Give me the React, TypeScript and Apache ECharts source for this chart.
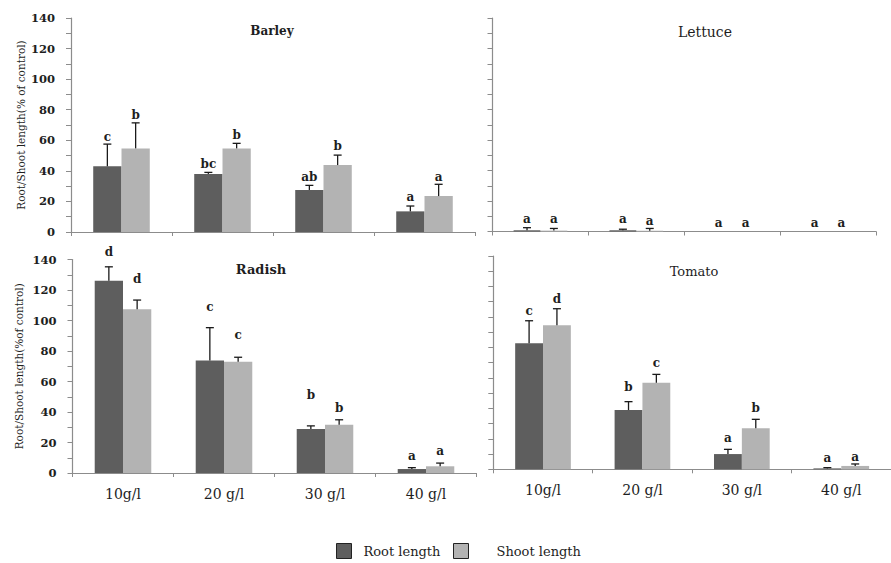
import React, { useEffect, useRef } from "react";
import * as echarts from "echarts";

const categories = ["10g/l", "20 g/l", "30 g/l", "40 g/l"];
const yTicks = { min: 0, max: 140, step: 20 };

const barleyRoot = [43, 38, 27.5, 13.5];
const barleyRootErr = [14.5, 1, 3, 3.5];
const barleyShoot = [54.7, 54.7, 43.8, 23.5];
const barleyShootErr = [16.7, 3.3, 6.5, 7.7];
const barleyRootLetters = ["c", "bc", "ab", "a"];
const barleyShootLetters = ["b", "b", "b", "a"];
const barleyRootLetterAt = [61.9, 44.2, 36.1, 23.1];
const barleyShootLetterAt = [76.5, 63.4, 56.2, 36.1];

const lettuceRoot = [0.8, 0.8, 0, 0];
const lettuceRootErr = [1.7, 0.7, 0, 0];
const lettuceShoot = [0.6, 0.5, 0, 0];
const lettuceShootErr = [1.4, 1.5, 0, 0];
const lettuceRootLetters = ["a", "a", "a", "a"];
const lettuceShootLetters = ["a", "a", "a", "a"];
const lettuceRootLetterAt = [7.9, 8.3, 5.4, 5.4];
const lettuceShootLetterAt = [7.9, 7.2, 5.4, 5.4];

const radishRoot = [126, 73.7, 28.8, 2.6];
const radishRootErr = [9.2, 21.6, 2.1, 0.9];
const radishShoot = [107.3, 73, 31.6, 4.4];
const radishShootErr = [6.1, 2.9, 3.3, 2.1];
const radishRootLetters = ["d", "c", "b", "a"];
const radishShootLetters = ["d", "c", "b", "a"];
const radishRootLetterAt = [145, 109, 51.2, 11.3];
const radishShootLetterAt = [126.9, 90.5, 42.7, 14.6];

const tomatoRoot = [82.7, 38.9, 10, 0.6];
const tomatoRootErr = [14.8, 5.5, 3.1, 0.5];
const tomatoShoot = [94.5, 56.8, 27, 2.2];
const tomatoShootErr = [10.9, 5.5, 5.8, 1.3];
const tomatoRootLetters = ["c", "b", "a", "a"];
const tomatoShootLetters = ["d", "c", "b", "a"];
const tomatoRootLetterAt = [104.1, 54.2, 20.3, 7.4];
const tomatoShootLetterAt = [111.5, 70, 40.4, 8.3];

const panelTitles = ["Barley", "Lettuce", "Radish", "Tomato"];
const yNames = ["Root/Shoot length(% of control)", "", "Root/Shoot length(%of control)", ""];
const legendNames = ["Root length", "Shoot length"];

const FONT = '"DejaVu Serif", "Liberation Serif", serif';
const ROOT_COLOR = "#5e5e5e";
const SHOOT_COLOR = "#b3b3b3";
const AXIS_COLOR = "#8c8c8c";
const TEXT_COLOR = "#1e1e1e";

const panels = [
  { root: barleyRoot, rootErr: barleyRootErr, shoot: barleyShoot, shootErr: barleyShootErr, rl: barleyRootLetters, sl: barleyShootLetters, ra: barleyRootLetterAt, sa: barleyShootLetterAt },
  { root: lettuceRoot, rootErr: lettuceRootErr, shoot: lettuceShoot, shootErr: lettuceShootErr, rl: lettuceRootLetters, sl: lettuceShootLetters, ra: lettuceRootLetterAt, sa: lettuceShootLetterAt },
  { root: radishRoot, rootErr: radishRootErr, shoot: radishShoot, shootErr: radishShootErr, rl: radishRootLetters, sl: radishShootLetters, ra: radishRootLetterAt, sa: radishShootLetterAt },
  { root: tomatoRoot, rootErr: tomatoRootErr, shoot: tomatoShoot, shootErr: tomatoShootErr, rl: tomatoRootLetters, sl: tomatoShootLetters, ra: tomatoRootLetterAt, sa: tomatoShootLetterAt },
];

const gridBoxes = [
  { left: 71, top: 18, width: 404, height: 214 },
  { left: 492.5, top: 18, width: 383.5, height: 213.5 },
  { left: 72.5, top: 259.5, width: 404, height: 213.5 },
  { left: 493.3, top: 256, width: 407, height: 213.3 },
];
const nameGaps = [45, 45, 48, 48];
const titleSpecs = [
  { x: 272, y: 31, font: `bold 12px ${FONT}` },
  { x: 705, y: 32, font: `14px ${FONT}` },
  { x: 261, y: 269.5, font: `bold 13px ${FONT}` },
  { x: 694, y: 271, font: `13px ${FONT}` },
];

function errorSeries(
  gi: number,
  vals: number[],
  errs: number[],
  letters: string[],
  letterAt: number[],
  sign: number
) {
  return {
    type: "custom",
    xAxisIndex: gi,
    yAxisIndex: gi,
    silent: true,
    z: 5,
    data: vals.map((v, i) => [i, v]),
    encode: { x: 0, y: 1 },
    renderItem: (params: any, api: any) => {
      const idx = params.dataIndex;
      const cw = api.size([1, 0])[0];
      const base = api.coord([idx, vals[idx]]);
      const x = base[0] + sign * cw * 0.14;
      const children: any[] = [];
      if (errs[idx] > 0) {
        const t = api.coord([idx, vals[idx] + errs[idx]]);
        children.push({
          type: "line",
          shape: { x1: x, y1: base[1], x2: x, y2: t[1] },
          style: { stroke: "#1a1a1a", lineWidth: 1.3 },
        });
        children.push({
          type: "line",
          shape: { x1: x - 4, y1: t[1], x2: x + 4, y2: t[1] },
          style: { stroke: "#1a1a1a", lineWidth: 1.3 },
        });
      }
      const ly = api.coord([idx, letterAt[idx]]);
      children.push({
        type: "text",
        x: x,
        y: ly[1],
        style: {
          text: letters[idx],
          fill: TEXT_COLOR,
          font: `bold 12px ${FONT}`,
          align: "center",
          verticalAlign: "middle",
        },
      });
      return { type: "group", children };
    },
  };
}

export default function App() {
  const ref = useRef<HTMLDivElement>(null);
  useEffect(() => {
    if (!ref.current) return;
    const chart = echarts.init(ref.current, null, { renderer: "svg" });

    const grid = gridBoxes.map((g) => ({ ...g, containLabel: false }));
    const xAxis = gridBoxes.map((_, i) => ({
      gridIndex: i,
      type: "category",
      data: categories,
      axisLine: { show: true, lineStyle: { color: AXIS_COLOR, width: 1.2 } },
      axisTick: { show: true, length: 4, lineStyle: { color: AXIS_COLOR } },
      axisLabel: {
        show: i >= 2,
        fontFamily: FONT,
        fontSize: 14,
        color: TEXT_COLOR,
        margin: 14,
      },
      splitLine: { show: false },
    }));
    const yAxis = gridBoxes.map((_, i) => ({
      gridIndex: i,
      type: "value",
      min: yTicks.min,
      max: yTicks.max,
      interval: yTicks.step,
      splitLine: { show: false },
      axisLine: { show: true, lineStyle: { color: AXIS_COLOR, width: 1.2 } },
      axisTick: { show: true, length: 5, lineStyle: { color: AXIS_COLOR } },
      minorTick: { show: true, splitNumber: 2, length: 5, lineStyle: { color: AXIS_COLOR } },
      axisLabel: {
        show: i % 2 === 0,
        fontFamily: FONT,
        fontWeight: "bold",
        fontSize: 11.5,
        color: TEXT_COLOR,
        margin: 16,
      },
      name: yNames[i],
      nameLocation: "middle",
      nameGap: nameGaps[i],
      nameTextStyle: { fontFamily: FONT, fontSize: 10.5, color: TEXT_COLOR },
    }));

    const series: any[] = [];
    panels.forEach((p, i) => {
      series.push({
        type: "bar",
        name: legendNames[0],
        xAxisIndex: i,
        yAxisIndex: i,
        data: p.root,
        barWidth: "28%",
        barGap: "0%",
        itemStyle: { color: ROOT_COLOR },
      });
      series.push({
        type: "bar",
        name: legendNames[1],
        xAxisIndex: i,
        yAxisIndex: i,
        data: p.shoot,
        barWidth: "28%",
        barGap: "0%",
        itemStyle: { color: SHOOT_COLOR },
      });
      series.push(errorSeries(i, p.root, p.rootErr, p.rl, p.ra, -1));
      series.push(errorSeries(i, p.shoot, p.shootErr, p.sl, p.sa, 1));
    });

    const legendCommon = {
      orient: "horizontal",
      top: 543,
      padding: 0,
      itemWidth: 15,
      itemHeight: 15,
      icon: "rect",
      selectedMode: false,
      itemStyle: { borderColor: "#222", borderWidth: 1 },
    };

    chart.setOption({
      animation: false,
      backgroundColor: "#ffffff",
      grid,
      xAxis,
      yAxis,
      series,
      legend: [
        {
          ...legendCommon,
          data: [legendNames[0]],
          left: 336,
          textStyle: { fontFamily: FONT, fontSize: 13, color: TEXT_COLOR, padding: [0, 0, 0, 7] },
        },
        {
          ...legendCommon,
          data: [legendNames[1]],
          left: 453,
          textStyle: { fontFamily: FONT, fontSize: 13, color: TEXT_COLOR, padding: [0, 0, 0, 23] },
        },
      ],
      graphic: panelTitles.map((t, i) => ({
        type: "text",
        x: titleSpecs[i].x,
        y: titleSpecs[i].y,
        style: {
          text: t,
          font: titleSpecs[i].font,
          fill: TEXT_COLOR,
          align: "center",
          verticalAlign: "middle",
        },
      })),
    });
    return () => chart.dispose();
  }, []);

  return (
    <div
      ref={ref}
      style={{ position: "fixed", left: 0, top: 0, width: 891, height: 563, background: "#fff" }}
    />
  );
}
